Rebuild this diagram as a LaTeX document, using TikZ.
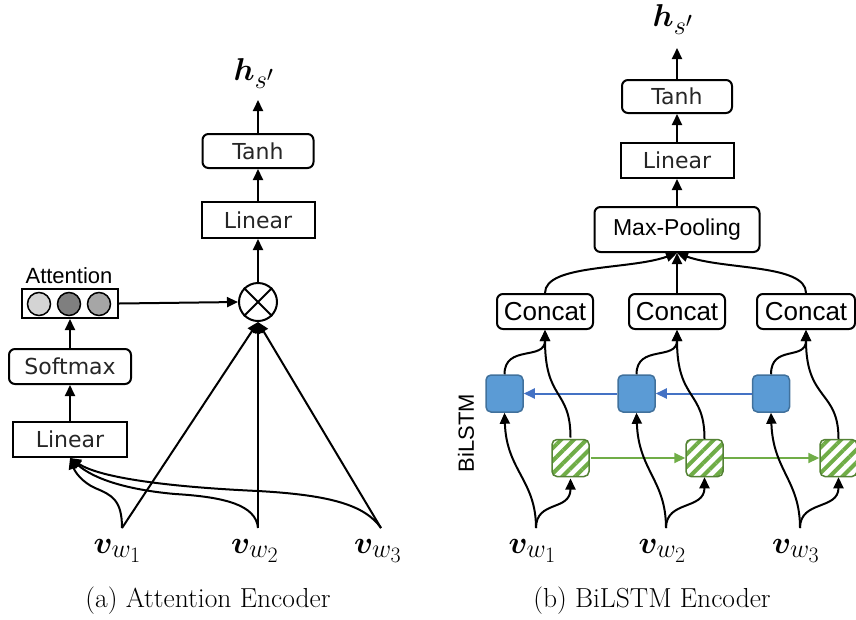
\documentclass[tikz,border=0pt]{standalone}
\usepackage{fontspec}
\usepackage{bm}
\usetikzlibrary{arrows.meta,calc,patterns.meta}
\newfontfamily\dvfont{DejaVu Sans}
\newfontfamily\arfont{Liberation Sans}
\definecolor{bluefill}{HTML}{5B9BD5}
\definecolor{blueedge}{HTML}{41719C}
\definecolor{bluearrow}{HTML}{4472C4}
\definecolor{greenfill}{HTML}{70AD47}
\definecolor{greenedge}{HTML}{548235}
\definecolor{lightdot}{HTML}{D4D4D4}
\definecolor{darkdot}{HTML}{7F7F7F}
\definecolor{middot}{HTML}{A6A6A6}
\newcommand{\mlbl}[1]{\scalebox{1.27}{$#1$}}
\begin{document}
\begin{tikzpicture}[x=1pt,y=-1pt,
  lw/.style={line width=2pt},
  arr/.style={line width=2pt,-{Triangle[length=11pt,width=10pt]}},
  barr/.style={line width=2pt,draw=bluearrow,fill=bluearrow,-{Triangle[length=11pt,width=10pt]}},
  garr/.style={line width=2pt,draw=greenfill,fill=greenfill,-{Triangle[length=11pt,width=10pt]}},
  sqbox/.style={draw,line width=2pt,inner sep=0pt,text=black!85,font=\dvfont\fontsize{22}{24}\selectfont},
  rbox/.style={sqbox,rounded corners=6pt},
  abox/.style={draw,line width=2pt,rounded corners=6pt,inner sep=0pt,font=\arfont\fontsize{26}{28}\selectfont},
  mlab/.style={inner sep=0pt,font=\fontsize{24.88}{28}\selectfont},
  captext/.style={inner sep=0pt,font=\fontsize{27.5}{30}\selectfont},
  bsq/.style={draw=blueedge,fill=bluefill,line width=1.5pt,rounded corners=5pt,minimum size=37pt,inner sep=0pt},
  gsq/.style={draw=greenedge,line width=1.5pt,rounded corners=5pt,minimum size=37pt,inner sep=0pt,
    pattern={Lines[angle=45,distance=9pt,line width=4pt]},pattern color=greenfill},
  dot/.style={circle,draw,line width=1.5pt,minimum size=23pt,inner sep=0pt}
]
\useasboundingbox (0,0) rectangle (856,619);

% ---------------- (a) Attention Encoder ----------------
\node[mlab,anchor=base] (hs1) at (254,80) {\mlbl{\bm{h}_{s'}}};
\coordinate (hs1tip) at (258,100);
\node[rbox,minimum width=111pt,minimum height=34pt] (tanh1) at (258,151) {Tanh};
\node[sqbox,minimum width=113pt,minimum height=36pt] (lin1) at (258,220) {Linear};
\node[circle,draw,line width=2pt,minimum size=38pt,inner sep=0pt] (ot) at (258,302) {};
\draw[lw] (ot.45) -- (ot.225) (ot.135) -- (ot.315);

\node[draw,lw,minimum width=96pt,minimum height=29pt,inner sep=0pt] (att) at (70,303.5) {};
\node[dot,fill=lightdot] (d1) at (39,304) {};
\node[dot,fill=darkdot] (d2) at (69,304) {};
\node[dot,fill=middot] (d3) at (99,304) {};
\node[anchor=base,inner sep=0pt,font=\arfont\fontsize{22}{24}\selectfont] (attlbl) at (69,283) {Attention};

\node[rbox,minimum width=122pt,minimum height=35pt] (soft) at (70,366.5) {Softmax};
\node[sqbox,minimum width=114pt,minimum height=35pt] (lin2) at (70,439.5) {Linear};

\coordinate (vin1) at (122,528);
\coordinate (vin2) at (258,528);
\coordinate (vin3) at (381,528);
\node[mlab,anchor=base] (lv1) at (117.5,553) {\mlbl{\bm{v}_{w_1}}};
\node[mlab,anchor=base] (lv2) at (255,553) {\mlbl{\bm{v}_{w_2}}};
\node[mlab,anchor=base] (lv3) at (378,553) {\mlbl{\bm{v}_{w_3}}};

\draw[arr] (tanh1.north) -- (hs1tip);
\draw[arr] (lin1.north) -- (tanh1.south);
\draw[arr] (ot.north) -- (lin1.south);
\draw[arr] (att.east) -- (ot.west);
\draw[arr] (soft.north) -- (att.south);
\draw[arr] (lin2.north) -- (soft.south);
\draw[arr] (vin1) -- (ot.south);
\draw[arr] (vin2) -- (ot.south);
\draw[arr] (vin3) -- (ot.south);
\draw[arr] (vin1) .. controls (122,500) and (112,495) .. (95,488) .. controls (82,482) and (75,472) .. (lin2.south);
\draw[arr] (vin2) .. controls (256,505) and (225,497) .. (175,494) .. controls (130,490) and (95,480) .. (lin2.south);
\draw[arr] (vin3) .. controls (365,505) and (330,495) .. (258,491) .. controls (170,487) and (100,478) .. (lin2.south);

\node[captext,anchor=base] (capa) at (208,607) {(a) Attention Encoder};

% ---------------- (b) BiLSTM Encoder ----------------
\node[mlab,anchor=base] (hs2) at (673,26) {\mlbl{\bm{h}_{s'}}};
\coordinate (hs2tip) at (677,48);
\node[rbox,minimum width=110pt,minimum height=33pt] (tanh2) at (677,96.5) {Tanh};
\node[sqbox,minimum width=113pt,minimum height=35pt] (lin3) at (677,160.5) {Linear};
\node[abox,minimum width=165pt,minimum height=45pt,font=\arfont\fontsize{23}{25}\selectfont] (mp) at (677,229.5) {Max-Pooling};

\node[abox,minimum width=96pt,minimum height=35pt] (cc1) at (545,311.5) {Concat};
\node[abox,minimum width=96pt,minimum height=35pt] (cc2) at (677,311.5) {Concat};
\node[abox,minimum width=98pt,minimum height=35pt] (cc3) at (806,311.5) {Concat};

\node[bsq] (bl1) at (504.5,393.5) {};
\node[bsq] (bl2) at (636.5,393.5) {};
\node[bsq] (bl3) at (771,393.5) {};
\node[gsq] (gr1) at (570.5,458) {};
\node[gsq] (gr2) at (704.5,458) {};
\node[gsq] (gr3) at (838.5,458) {};

\node[rotate=90,inner sep=0pt,font=\arfont\fontsize{22}{24}\selectfont] (bil) at (466,433) {BiLSTM};

\coordinate (rin1) at (536,528);
\coordinate (rin2) at (666,528);
\coordinate (rin3) at (800,528);
\node[mlab,anchor=base] (rv1) at (532.5,553) {\mlbl{\bm{v}_{w_1}}};
\node[mlab,anchor=base] (rv2) at (662.5,553) {\mlbl{\bm{v}_{w_2}}};
\node[mlab,anchor=base] (rv3) at (796,553) {\mlbl{\bm{v}_{w_3}}};

\draw[arr] (tanh2.north) -- (hs2tip);
\draw[arr] (lin3.north) -- (tanh2.south);
\draw[arr] (mp.north) -- (lin3.south);
\draw[arr] (cc1.north) .. controls ($(cc1.north)+(0,-29)$) and ($(mp.south)+(-47,17)$) .. (mp.south);
\draw[arr] (cc2.north) -- (mp.south);
\draw[arr] (cc3.north) .. controls ($(cc3.north)+(0,-29)$) and ($(mp.south)+(47,17)$) .. (mp.south);

\draw[barr] (bl3.west) -- (bl2.east);
\draw[barr] (bl2.west) -- (bl1.east);
\draw[garr] (gr1.east) -- (gr2.west);
\draw[garr] (gr2.east) -- (gr3.west);

\foreach \i in {1,2,3}{
  \draw[arr] (rin\i) .. controls ($(rin\i)+(0,-48)$) and ($(bl\i.south)+(2,58)$) .. (bl\i.south);
  \draw[arr] (rin\i) .. controls ($(rin\i)+(0,-28)$) and ($(gr\i.south)+(0,33)$) .. (gr\i.south);
  \draw[arr] (bl\i.north) .. controls ($(bl\i.north)+(0,-30)$) and ($(cc\i.south)+(0,31)$) .. (cc\i.south);
  \draw[arr] (gr\i.north) .. controls ($(gr\i.north)+(0,-49)$) and ($(cc\i.south)+(0,71)$) .. (cc\i.south);
}

\node[captext,anchor=base] (capb) at (652,607) {(b) BiLSTM Encoder};
\end{tikzpicture}
\end{document}
